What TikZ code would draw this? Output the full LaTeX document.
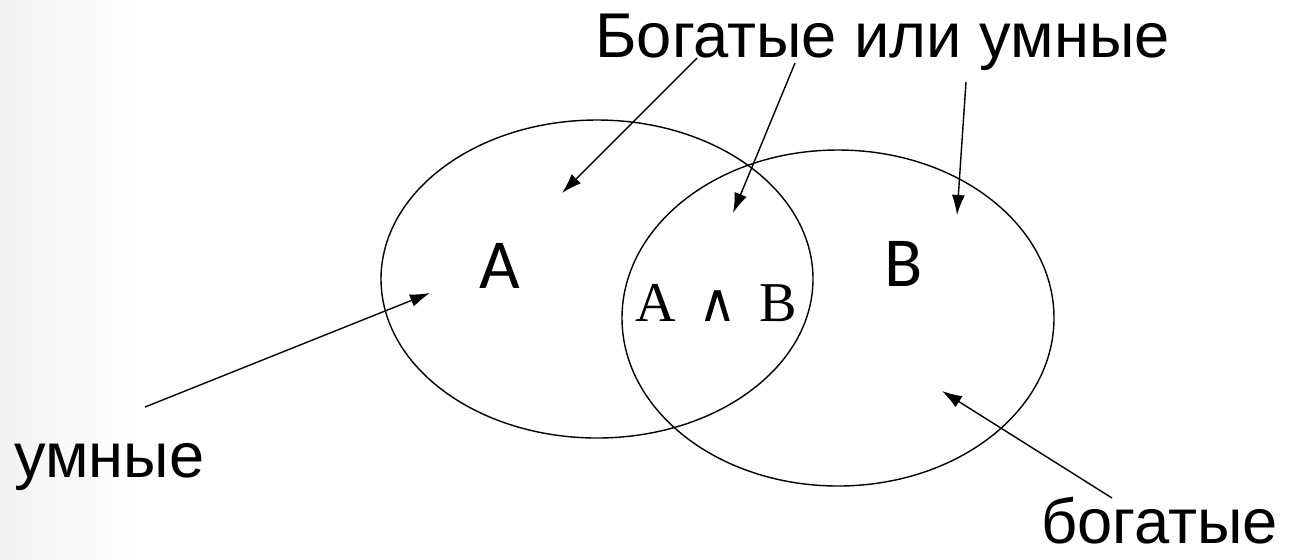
\documentclass[tikz,border=0pt]{standalone}
\usepackage{fontspec}
\setmainfont{Liberation Serif}
\newfontfamily\labelfont{Liberation Sans}
\newfontfamily\setfont{Carlito}
\newfontfamily\opfont{DejaVu Serif}
\usepackage{tikz}
\usetikzlibrary{arrows.meta,positioning}

\begin{document}
\begin{tikzpicture}[x=0.02cm,y=-0.02cm,
  lbl/.style={font=\labelfont\fontsize{36}{42}\selectfont,inner sep=0pt},
  setname/.style={font=\setfont\fontsize{40}{46}\selectfont,inner sep=0pt},
  ptr/.style={-{Latex[length=4mm,width=2.6mm]},line width=0.8pt},
  ring/.style={line width=0.8pt}]
  % page
  \useasboundingbox (0,0) rectangle (1298,559);
  \shade[left color=black!5,right color=white] (0,0) rectangle (140,559);
  % the two sets
  \draw[ring] (597,279) ellipse (216 and 159);
  \draw[ring] (838,318) ellipse (216 and 168);
  \node[setname] (a) at (500,266) {A};
  \node[setname] (b) at (904,264) {B};
  \node[inner sep=0pt,font=\fontsize{32}{38}\selectfont] (ab) at (716,303)
    {A\hspace{0.4em}{\opfont\fontsize{30}{34}\selectfont ∧}\hspace{0.4em}B};
  % labels
  \node[lbl,anchor=base west] (title) at (595,57) {Богатые или умные};
  \node[lbl,anchor=base west] (smart) at (14,477) {умные};
  \node[lbl,anchor=base east] (rich) at (1278,543) {богатые};
  % arrow ends
  \coordinate (t1) at (697,58);
  \coordinate (t2) at (795,63);
  \coordinate (t3) at (966,82);
  \coordinate (s0) at (145,407);
  \coordinate (r0) at (1112,498);
  \coordinate (inA) at (562,193);
  \coordinate (inAB) at (733,213);
  \coordinate (inB) at (957,215);
  \coordinate (onA) at (430,293);
  \coordinate (onB) at (942,391);
  % arrows
  \draw[ptr] (t1) -- (inA);
  \draw[ptr] (t2) -- (inAB);
  \draw[ptr] (t3) -- (inB);
  \draw[ptr] (s0) -- (onA);
  \draw[ptr] (r0) -- (onB);
\end{tikzpicture}
\end{document}
